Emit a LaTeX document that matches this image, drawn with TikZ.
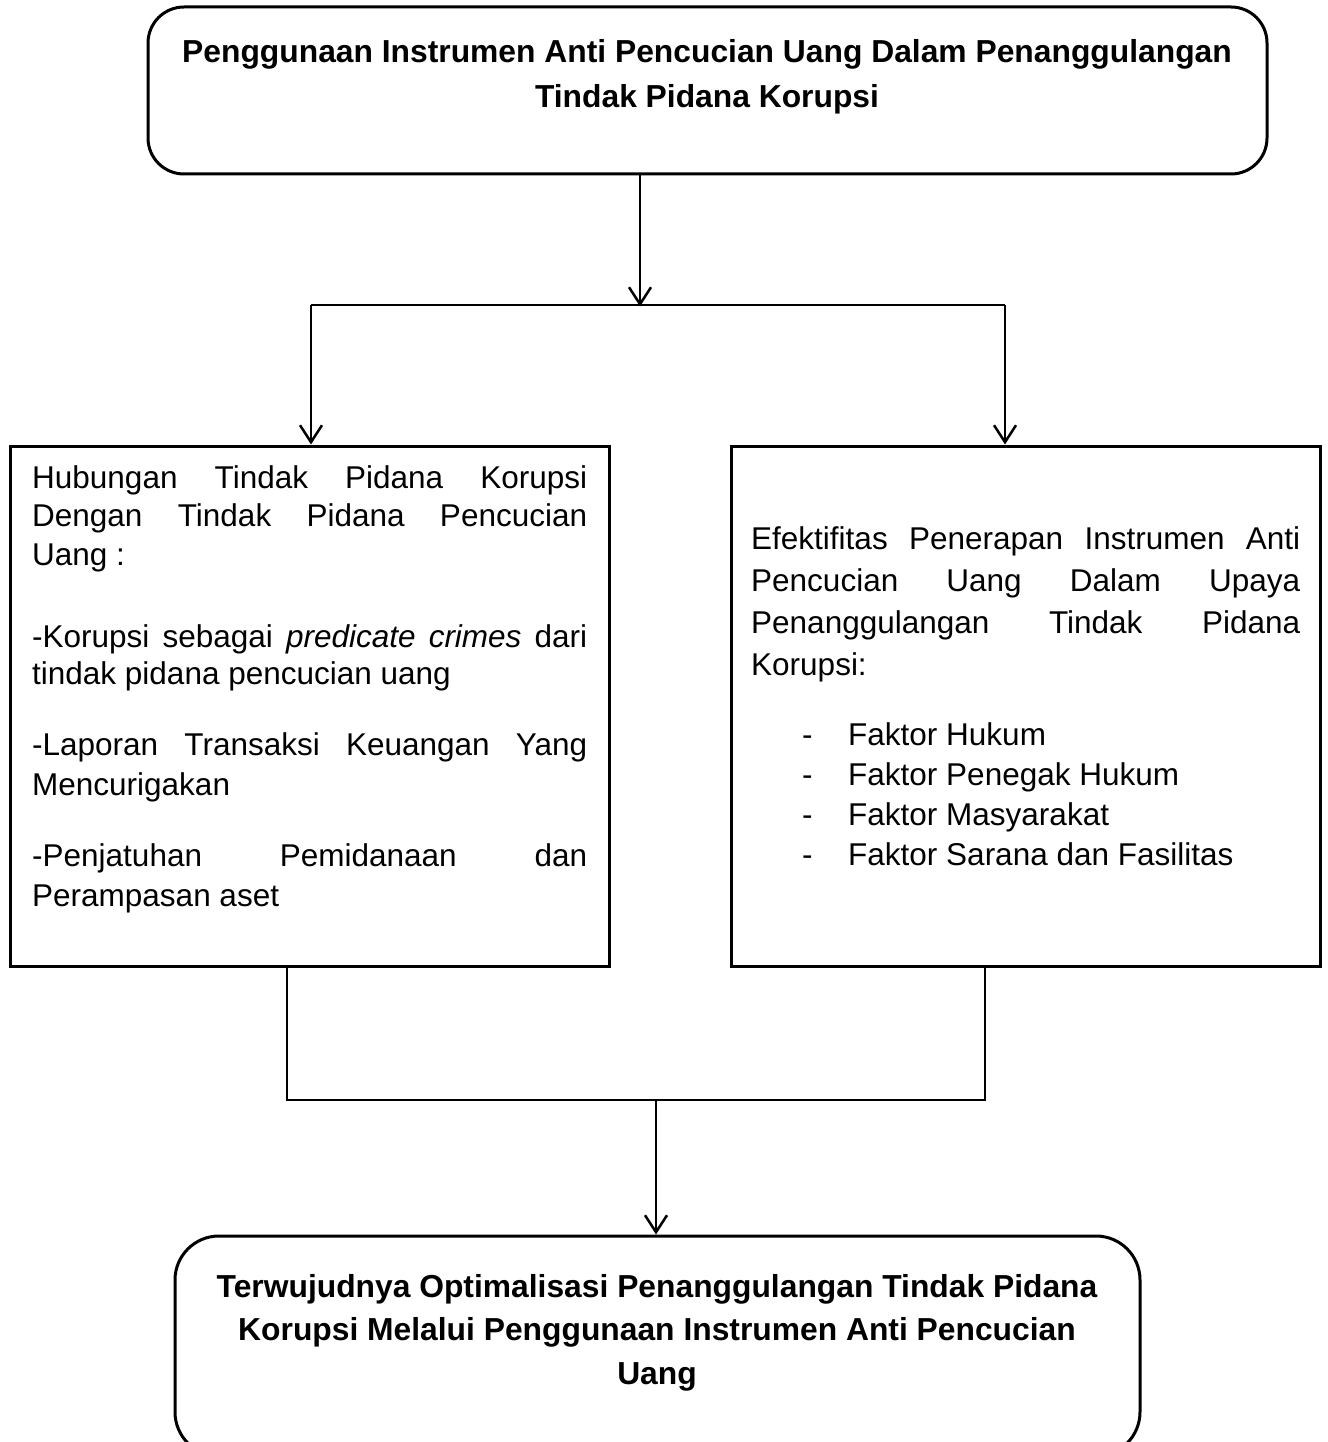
\documentclass[tikz,border=0pt]{standalone}
\usepackage{fontspec}
\setmainfont{Liberation Sans}
\usetikzlibrary{arrows.meta}
\begin{document}
\begin{tikzpicture}[x=1pt,y=-1pt,
  box/.style={draw,line width=3pt,inner sep=0pt},
  rbox/.style={box,rounded corners=36pt},
  txt/.style={inner sep=0pt,anchor=base west,align=left},
  ttl/.style={inner sep=0pt,anchor=base,align=center,font=\fontsize{31.8}{45}\selectfont\bfseries},
  conn/.style={line width=2.5pt},
  arr/.style={conn,-{Straight Barb[length=17pt,width=22pt,line width=2.5pt]}}]
\useasboundingbox (0,0) rectangle (1327,1442);
\fontsize{31.5}{38}\selectfont
% boxes
\node[rbox,minimum width=1119pt,minimum height=167pt] (top) at (707.5,90.5) {};
\node[box,minimum width=599pt,minimum height=520pt] (left) at (309.5,706) {};
\node[box,minimum width=589pt,minimum height=520pt] (right) at (1025.5,706) {};
\node[rbox,rounded corners=44pt,minimum width=965pt,minimum height=220pt] (bot) at (657.5,1346) {};
% titles (base = last line)
\node[ttl] (toptxt) at (707,108) {Penggunaan Instrumen Anti Pencucian Uang Dalam Penanggulangan\\Tindak Pidana Korupsi};
\node[ttl,font=\fontsize{31.8}{43.5}\selectfont\bfseries] (bottxt) at (657,1384) {Terwujudnya Optimalisasi Penanggulangan Tindak Pidana\\Korupsi Melalui Penggunaan Instrumen Anti Pencucian\\Uang};
% left box text
\node[txt,font=\fontsize{31.5}{38.5}\selectfont] (lp1) at (32,565) {\makebox[555pt][s]{Hubungan Tindak Pidana Korupsi}\\\makebox[555pt][s]{Dengan Tindak Pidana Pencucian}\\Uang :};
\node[txt,font=\fontsize{31.5}{37}\selectfont] (lp2) at (32,684) {\makebox[555pt][s]{-Korupsi sebagai \textit{predicate crimes} dari}\\tindak pidana pencucian uang};
\node[txt,font=\fontsize{31.5}{40}\selectfont] (lp3) at (32,795) {\makebox[555pt][s]{-Laporan Transaksi Keuangan Yang}\\Mencurigakan};
\node[txt,font=\fontsize{31.5}{40}\selectfont] (lp4) at (32,906) {\makebox[555pt][s]{-Penjatuhan Pemidanaan dan}\\Perampasan aset};
% right box text
\node[txt,font=\fontsize{31.5}{42}\selectfont] (rp1) at (751,675) {\makebox[549pt][s]{Efektifitas Penerapan Instrumen Anti}\\\makebox[549pt][s]{Pencucian Uang Dalam Upaya}\\\makebox[549pt][s]{Penanggulangan Tindak Pidana}\\Korupsi:};
\node[txt,font=\fontsize{31.5}{40}\selectfont] (rp2) at (802,865) {\makebox[46pt][l]{-}Faktor Hukum\\\makebox[46pt][l]{-}Faktor Penegak Hukum\\\makebox[46pt][l]{-}Faktor Masyarakat\\\makebox[46pt][l]{-}Faktor Sarana dan Fasilitas};
% connectors
\coordinate (split) at (640,305);
\coordinate (bl) at (311,305);
\coordinate (br) at (1005,305);
\coordinate (ml) at (287,1100);
\coordinate (mr) at (985,1100);
\coordinate (merge) at (656,1100);
\draw[arr] (top.south -| split) -- ([yshift=-1.5pt]split);
\draw[conn] (bl) -- (br);
\draw[arr] (bl) -- (left.north -| bl);
\draw[arr] (br) -- (right.north -| br);
\draw[conn] (left.south -| ml) -- (ml) -- (mr) -- (right.south -| mr);
\draw[arr] (merge) -- (bot.north -| merge);
\end{tikzpicture}
\end{document}
